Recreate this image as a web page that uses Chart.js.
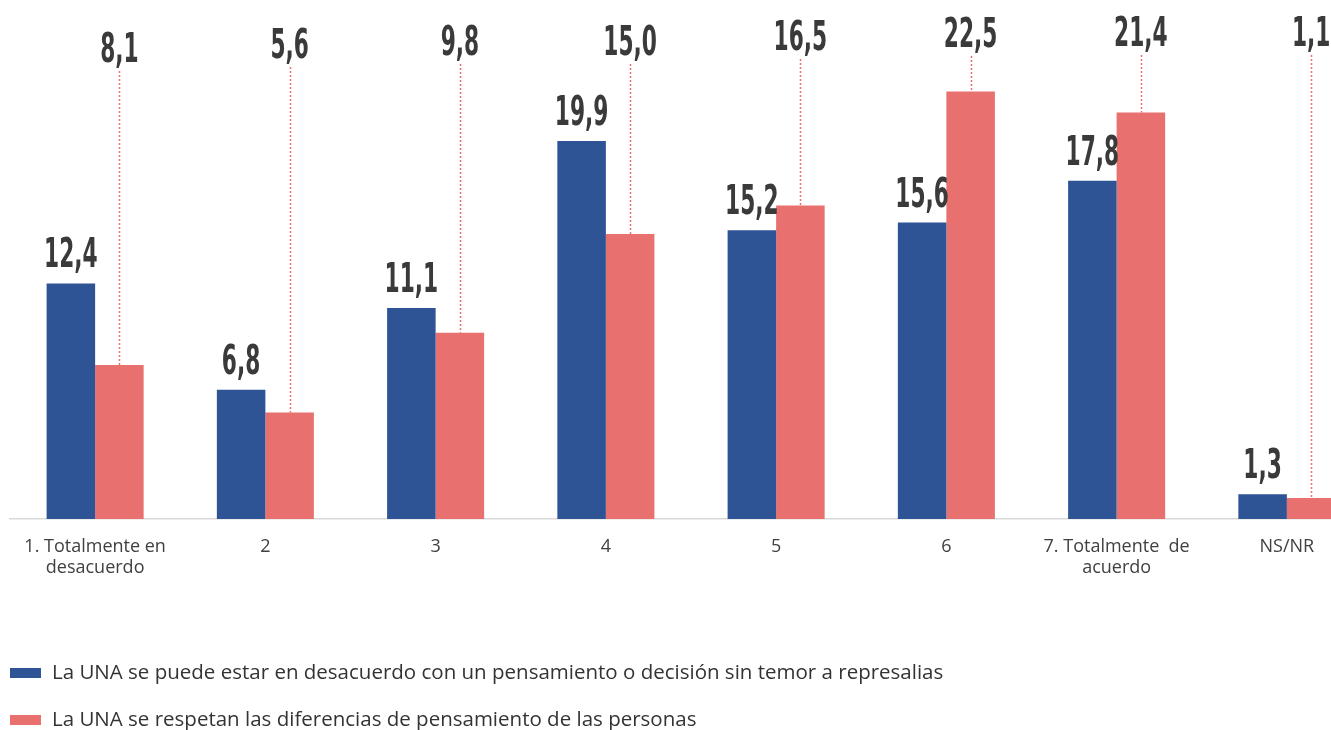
<!DOCTYPE html>
<html><head><meta charset="utf-8">
<script src="https://cdn.jsdelivr.net/npm/chart.js@4.4.1/dist/chart.umd.min.js"></script>
<style>
html,body{margin:0;padding:0;overflow:hidden;background:#fff;width:1331px;height:730px}
canvas{display:block}
</style></head><body>
<canvas id="c" width="1380" height="730"></canvas>
<script>
const categories = [["1. Totalmente en","desacuerdo"],"2","3","4","5","6",["7. Totalmente  de","acuerdo"],"NS/NR"];
const seriesNames = [
  "La UNA se puede estar en desacuerdo con un pensamiento o decisión sin temor a represalias",
  "La UNA se respetan las diferencias de pensamiento de las personas"
];
const desacuerdoValues = [12.4, 6.8, 11.1, 19.9, 15.2, 15.6, 17.8, 1.3];
const respetanValues = [8.1, 5.6, 9.8, 15.0, 16.5, 22.5, 21.4, 1.1];

const BLUE = '#2E5496';
const RED = '#E87170';
// pixel centre heights of the raised labels for the second series
const redLabelCenters = [47, 43, 40, 40, 35, 32, 31, 31];

function fmt(v){ return v.toFixed(1).replace('.', ','); }

function drawCondensed(ctx, text, x, cy){
  ctx.save();
  ctx.font = 'bold 41px "DejaVu Sans"';
  ctx.fillStyle = '#3a3a3a';
  ctx.textAlign = 'center';
  ctx.textBaseline = 'alphabetic';
  ctx.translate(x, cy + 15);
  ctx.scale(0.53, 1);
  ctx.fillText(text, 0, 0);
  ctx.restore();
}

const labelPlugin = {
  id: 'valueLabels',
  afterDatasetsDraw(chart){
    const ctx = chart.ctx;
    const m0 = chart.getDatasetMeta(0), m1 = chart.getDatasetMeta(1);
    m1.data.forEach((bar, i) => {
      const cy = redLabelCenters[i];
      ctx.save();
      ctx.strokeStyle = RED;
      ctx.lineWidth = 1.5;
      ctx.setLineDash([2, 2]);
      ctx.beginPath();
      ctx.moveTo(Math.round(bar.x) + 0.5, cy + 24);
      ctx.lineTo(Math.round(bar.x) + 0.5, bar.y);
      ctx.stroke();
      ctx.restore();
      drawCondensed(ctx, fmt(respetanValues[i]), bar.x, cy);
    });
    m0.data.forEach((bar, i) => {
      drawCondensed(ctx, fmt(desacuerdoValues[i]), bar.x, bar.y - 31);
    });
  }
};

const legendPlugin = {
  id: 'customLegend',
  afterDraw(chart){
    const ctx = chart.ctx;
    const items = [[seriesNames[0], BLUE, 673], [seriesNames[1], RED, 720]];
    ctx.save();
    ctx.font = '20.5px "Open Sans"';
    ctx.textBaseline = 'middle';
    ctx.textAlign = 'left';
    items.forEach(([t, c, y]) => {
      ctx.fillStyle = c;
      ctx.fillRect(10, y - 5, 31, 10);
      ctx.fillStyle = '#333333';
      ctx.fillText(t, 52, y);
    });
    ctx.restore();
  }
};

new Chart(document.getElementById('c'), {
  type: 'bar',
  data: {
    labels: categories,
    datasets: [
      { label: seriesNames[0], data: desacuerdoValues, backgroundColor: BLUE, categoryPercentage: 0.57, barPercentage: 1.0 },
      { label: seriesNames[1], data: respetanValues, backgroundColor: RED, categoryPercentage: 0.57, barPercentage: 1.0 }
    ]
  },
  options: {
    responsive: false,
    animation: false,
    layout: { padding: { left: 10, right: 8, top: 6, bottom: 0 } },
    plugins: { legend: { display: false }, tooltip: { enabled: false } },
    scales: {
      x: {
        grid: { display: false },
        border: { display: true, color: '#d9d9d9', width: 1.5 },
        ticks: {
          color: '#404040', font: { family: '"Open Sans"', size: 18, lineHeight: 1.15 },
          padding: 10, maxRotation: 0, autoSkip: false
        },
        afterFit(scale){ scale.height = 211; }
      },
      y: { display: false, min: 0, max: 27 }
    }
  },
  plugins: [labelPlugin, legendPlugin]
});
</script>
</body></html>
